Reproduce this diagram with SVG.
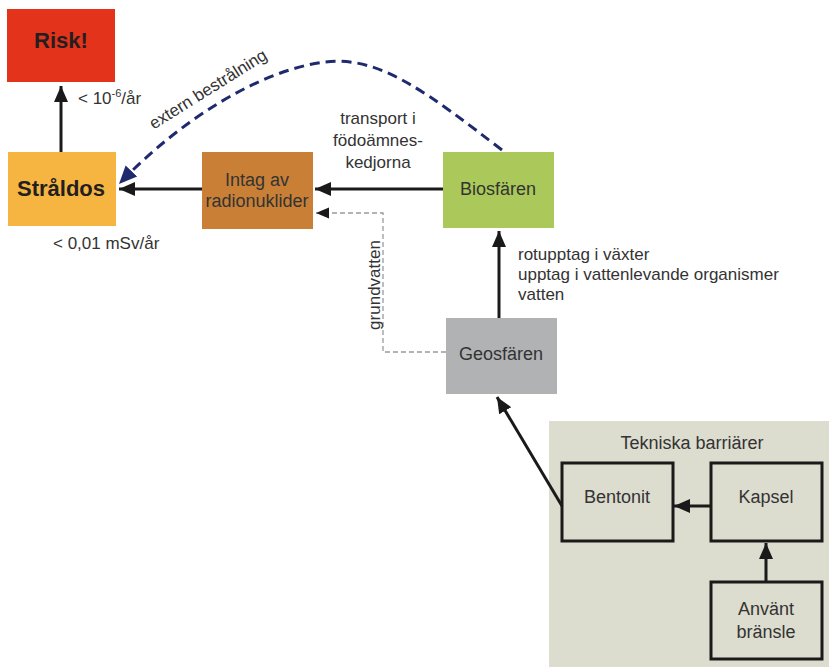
<svg xmlns="http://www.w3.org/2000/svg" width="829" height="667" viewBox="0 0 829 667">
<defs>
<style>
text{font-family:"Liberation Sans",Arial,sans-serif;fill:#333;}
.lbl{font-size:17px;}
.node{font-size:18px;text-anchor:middle;}
.bold{font-size:22px;font-weight:bold;fill:#231f20;text-anchor:middle;}
.solid{stroke:#1a1a1a;stroke-width:3;fill:none;}
.box{fill:none;stroke:#1a1a1a;stroke-width:3;}
</style>
<marker id="ah" markerUnits="userSpaceOnUse" markerWidth="18" markerHeight="16" refX="16" refY="8" orient="auto">
<path d="M0,1 L16,8 L0,15 Z" fill="#1a1a1a"/>
</marker>
<marker id="ahs" markerUnits="userSpaceOnUse" markerWidth="14" markerHeight="12" refX="13" refY="6" orient="auto">
<path d="M0,0.5 L13,6 L0,11.5 Z" fill="#1a1a1a"/>
</marker>
<marker id="ahn" markerUnits="userSpaceOnUse" markerWidth="20" markerHeight="18" refX="18" refY="9" orient="auto">
<path d="M0,1 L18,9 L0,17 Z" fill="#1f2a6e"/>
</marker>
</defs>
<rect width="829" height="667" fill="#fff"/>

<g id="tekniska">
<rect x="549" y="421" width="280" height="246" fill="#dcdccf"/>
<text class="node" x="692" y="449">Tekniska barriärer</text>
</g>

<g id="risk">
<rect x="7" y="9" width="108" height="73" fill="#e3331b"/>
<text class="bold" x="61" y="48">Risk!</text>
</g>
<g id="straldos">
<rect x="8" y="152" width="108" height="74" fill="#f6b440"/>
<text class="bold" x="61" y="196" font-size="21">Stråldos</text>
</g>
<g id="intag">
<rect x="202" y="152" width="111" height="77" fill="#c98036"/>
<text class="node" x="257" y="186">Intag av</text>
<text class="node" x="257" y="207">radionuklider</text>
</g>
<g id="biosfaren">
<rect x="443" y="152" width="111" height="76" fill="#aac95a"/>
<text class="node" x="498" y="195">Biosfären</text>
</g>
<g id="geosfaren">
<rect x="446" y="318" width="111" height="76" fill="#b1b2b4"/>
<text class="node" x="501" y="360">Geosfären</text>
</g>
<g id="bentonit">
<rect class="box" x="562" y="463" width="111" height="78"/>
<text class="node" x="617" y="503">Bentonit</text>
</g>
<g id="kapsel">
<rect class="box" x="711" y="463" width="111" height="78"/>
<text class="node" x="766" y="503">Kapsel</text>
</g>
<g id="anvant">
<rect class="box" x="711" y="582" width="111" height="77"/>
<text class="node" x="766" y="615">Använt</text>
<text class="node" x="766" y="638">bränsle</text>
</g>

<g id="connectors">
<line class="solid" x1="61" y1="152" x2="61" y2="86" marker-end="url(#ah)"/>
<line class="solid" x1="202" y1="189" x2="119" y2="189" marker-end="url(#ah)"/>
<line class="solid" x1="443" y1="189" x2="315" y2="189" marker-end="url(#ah)"/>
<line class="solid" x1="499" y1="318" x2="499" y2="231" marker-end="url(#ah)"/>
<line class="solid" x1="562" y1="506" x2="497" y2="397" marker-end="url(#ah)"/>
<line class="solid" x1="711" y1="506" x2="674" y2="506" marker-end="url(#ah)"/>
<line class="solid" x1="766" y1="582" x2="766" y2="543" marker-end="url(#ah)"/>
<path d="M446,352 H383 V213 H316" fill="none" stroke="#9a9a9a" stroke-width="1.3" stroke-dasharray="5,3" marker-end="url(#ahs)"/>
<path d="M502,150 C430,95 380,55 325,62 C260,70 180,120 119,184" fill="none" stroke="#1f2a6e" stroke-width="3" stroke-dasharray="10,6" marker-end="url(#ahn)"/>
<text class="lbl" x="78" y="104">&lt; 10<tspan font-size="11" dy="-7">-6</tspan><tspan dy="7">/år</tspan></text>
<text class="lbl" x="53" y="249">&lt; 0,01 mSv/år</text>
<text class="lbl" text-anchor="middle" x="378" y="124">transport i</text>
<text class="lbl" text-anchor="middle" x="378" y="146">födoämnes-</text>
<text class="lbl" text-anchor="middle" x="378" y="168">kedjorna</text>
<text class="lbl" x="518" y="260">rotupptag i växter</text>
<text class="lbl" x="518" y="280">upptag i vattenlevande organismer</text>
<text class="lbl" x="518" y="300">vatten</text>
<text class="lbl" text-anchor="middle" transform="translate(380,285) rotate(-90)">grundvatten</text>
<text class="lbl" text-anchor="middle" transform="translate(211,94) rotate(-32)">extern bestrålning</text>
</g>
</svg>
